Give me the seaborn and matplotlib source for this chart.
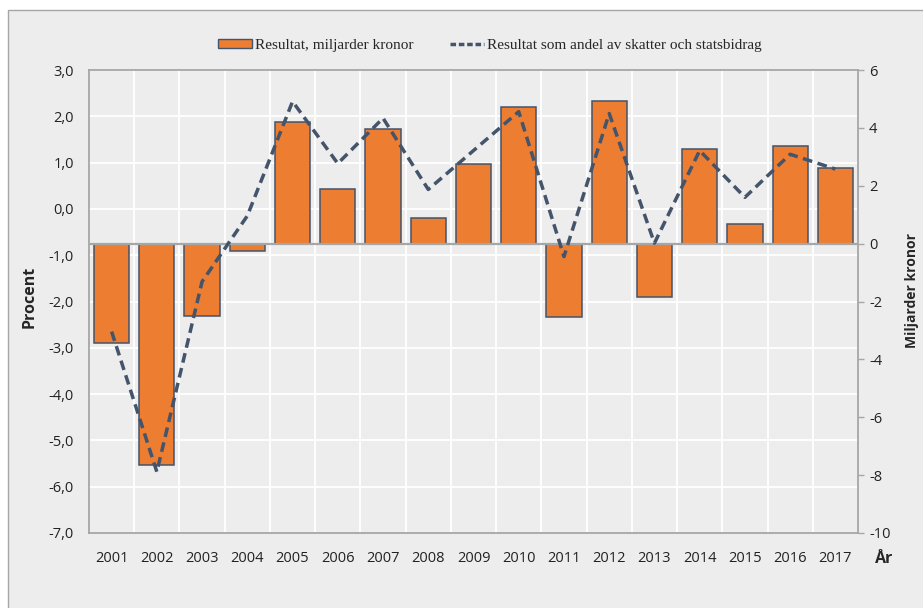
import numpy as np
import matplotlib.pyplot as plt
import matplotlib.patches as mpatches
import matplotlib.lines as mlines
import seaborn as sns

# Data
years = ["2001", "2002", "2003", "2004", "2005", "2006", "2007", "2008", "2009",
         "2010", "2011", "2012", "2013", "2014", "2015", "2016", "2017"]
resultat_mdkr = [-3.42, -7.65, -2.49, -0.25, 4.21, 1.89, 3.95, 0.87, 2.76,
                 4.71, -2.53, 4.94, -1.83, 3.27, 0.67, 3.37, 2.60]
andel_procent = [-2.65, -5.68, -1.57, -0.15, 2.32, 0.98, 1.96, 0.42, 1.26,
                 2.10, -1.03, 2.06, -0.74, 1.26, 0.25, 1.18, 0.86]
procent_ticks = [-7, -6, -5, -4, -3, -2, -1, 0, 1, 2, 3]
mdkr_ticks = [-10, -8, -6, -4, -2, 0, 2, 4, 6]

orange = "#ed7d31"
slate = "#44546a"
bg = "#ededed"
axis_grey = "#a6a6a6"

sns.set_style("white")
plt.rcParams['font.family'] = ['Open Sans', 'DejaVu Sans']
plt.rcParams['axes.unicode_minus'] = False

fig = plt.figure(figsize=(9.23, 6.08), dpi=100)
fig.patch.set_facecolor("white")
# grey chart area with thin border (top/left visible)
frame = mpatches.Rectangle((8 / 923, -0.01), 1.0, 1 - 10 / 608 + 0.01, transform=fig.transFigure,
                           facecolor=bg, edgecolor=axis_grey, lw=1, zorder=-5)
fig.patches.append(frame)

ax = fig.add_axes([89 / 923, 1 - 533 / 608, (858 - 89) / 923, (533 - 70) / 608])
ax.set_facecolor(bg)

# bars on the secondary axis (miljarder kronor)
ax2 = ax.twinx()
sns.barplot(x=years, y=resultat_mdkr, ax=ax2, color=orange, saturation=1,
            edgecolor=slate, linewidth=1.1, width=0.78)
ax2.axhline(0, color=axis_grey, lw=1.6, zorder=3)

# line in procent, on its own overlay axis so it sits above the bars
ax3 = ax.twinx()
sns.pointplot(x=years, y=andel_procent, ax=ax3, color=slate, errorbar=None,
              linestyle="--", marker="", linewidth=2.5)
for ln in ax3.lines:
    ln.set_dashes((2.8, 1.6))
ax3.set_ylim(-7, 3)
ax3.set_yticks([])
ax3.set_ylabel("")
for s in ax3.spines.values():
    s.set_visible(False)

ax.set_xlim(-0.5, len(years) - 0.5)

# left axis: procent
ax.set_ylim(-7, 3)
ax.set_yticks(procent_ticks)
ax.set_yticklabels([f"{v:.1f}".replace(".", ",") for v in procent_ticks])
ax.tick_params(axis="y", length=0, pad=11, labelsize=10.5, colors="#222222")
ax.yaxis.grid(True, color="white", lw=1.3)
ax.set_xticks(np.arange(-0.5, len(years), 1), minor=True)
ax.xaxis.grid(True, which="minor", color="white", lw=1.3)
ax.tick_params(axis="x", which="both", length=0, pad=13, labelsize=10.5, colors="#222222")
ax.set_axisbelow(True)
for side in ["left", "top", "bottom"]:
    ax.spines[side].set_color(axis_grey)
    ax.spines[side].set_linewidth(1.3)
ax.spines["right"].set_visible(False)

# right axis: miljarder kronor
ax2.set_ylim(-10, 6)
ax2.set_yticks(mdkr_ticks)
ax2.set_yticklabels([str(v) for v in mdkr_ticks])
ax2.tick_params(axis="y", length=4, width=1, color=axis_grey, pad=4, labelsize=10.5, colors="#222222")
ax2.tick_params(axis="y", color=axis_grey)
ax2.set_ylabel("")
ax2.set_xlabel("")
for side in ["left", "top", "bottom"]:
    ax2.spines[side].set_visible(False)
ax2.spines["right"].set_color(axis_grey)
ax2.spines["right"].set_linewidth(1.3)

fig.text(30 / 923, 1 - 297 / 608, "Procent", rotation=90, ha="center", va="center",
         fontsize=11.5, fontweight="bold")
fig.text(912 / 923, 1 - 290 / 608, "Miljarder kronor", rotation=90, ha="center", va="center",
         fontsize=10, fontweight="bold")
fig.text(875 / 923, 1 - 559 / 608, "År", ha="left", va="center", fontsize=11.5, fontweight="bold")

handles = [mpatches.Patch(facecolor=orange, edgecolor=slate, lw=1),
           mlines.Line2D([], [], color=slate, lw=2.5, dashes=(1.6, 0.8))]
fig.legend(handles, ["Resultat, miljarder kronor", "Resultat som andel av skatter och statsbidrag"],
           loc="center", bbox_to_anchor=(490 / 923, 1 - 45.5 / 608), ncol=2, frameon=False,
           prop={"family": "Liberation Serif", "size": 11}, handlelength=2.2, handleheight=0.45,
           handletextpad=0.2, columnspacing=2.4)

fig.savefig("out.png", dpi=100)
